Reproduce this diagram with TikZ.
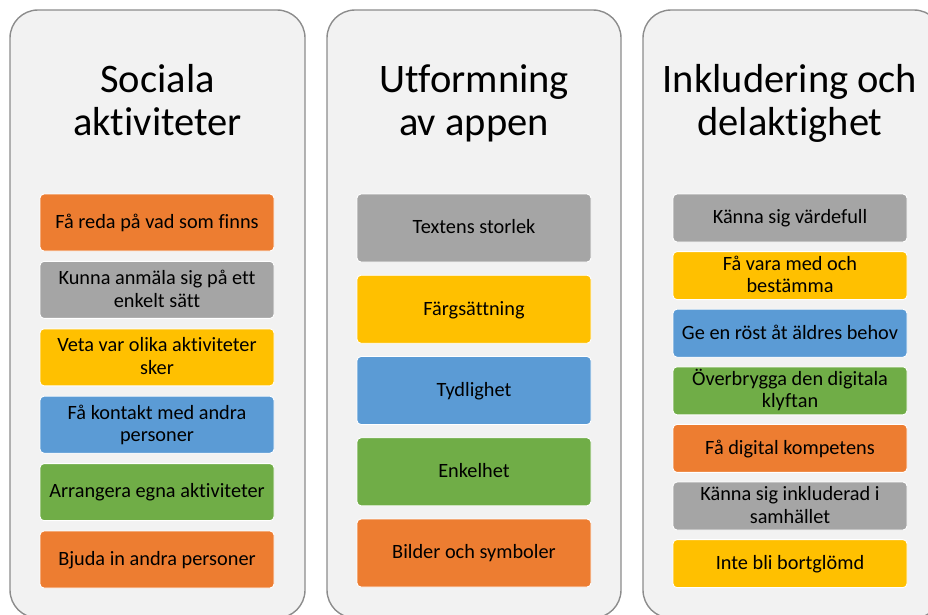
\documentclass[tikz,border=0pt]{standalone}
\usepackage{fontspec}
\setmainfont{Carlito}[Ligatures={NoCommon,NoRare,NoContextual}]
\definecolor{panelfill}{HTML}{F2F2F2}
\definecolor{panelline}{HTML}{8C8C8C}
\definecolor{corange}{HTML}{ED7D31}
\definecolor{cgray}{HTML}{A5A5A5}
\definecolor{cyellow}{HTML}{FFC000}
\definecolor{cblue}{HTML}{5B9BD5}
\definecolor{cgreen}{HTML}{70AD47}
\newcommand\mystrut{\rule[-5.4pt]{0pt}{22.5pt}}
\tikzset{
  panel/.style={draw=panelline, fill=panelfill, line width=1.4pt, rounded corners=28pt,
    minimum width=#1, minimum height=608pt, inner sep=0pt},
  title/.style={anchor=base, inner sep=0pt, font=\fontsize{40.5}{46}\selectfont, text=black},
  itembox/.style={draw=white, line width=0.9pt, rounded corners=4pt, inner sep=0pt,
    minimum width=234pt, align=center, font=\fontsize{20.3}{22.5}\selectfont, text=black},
  b1/.style={itembox, minimum height=57pt},
  b2/.style={itembox, minimum height=68pt},
  b3/.style={itembox, minimum height=48pt},
}
\begin{document}
\begin{tikzpicture}[x=1pt,y=-1pt]
\useasboundingbox (0,0) rectangle (928,614);
% panels
\node[panel=295pt] (p1) at (157.5,314) {};
\node[panel=294pt] (p2) at (474,314) {};
\node[panel=299pt] (p3) at (792.5,314) {};
% titles
\node[title] (t1a) at (157.5,92) {Sociala};
\node[title] (t1b) at (157.5,135) {aktiviteter};
\node[title] (t2a) at (474,92) {Utformning};
\node[title] (t2b) at (474,135) {av appen};
\node[title] (t3a) at (790,92) {Inkludering och};
\node[title] (t3b) at (790,135) {delaktighet};
% panel 1
\node[b1, fill=corange] (a1) at (157,222.5) {Få reda på vad som finns\mystrut};
\node[b1, fill=cgray]   (a2) at (157,289.9) {Kunna anmäla sig på ett\mystrut\\enkelt sätt\mystrut};
\node[b1, fill=cyellow] (a3) at (157,357.3) {Veta var olika aktiviteter\mystrut\\sker\mystrut};
\node[b1, fill=cblue]   (a4) at (157,424.7) {Få kontakt med andra\mystrut\\personer\mystrut};
\node[b1, fill=cgreen]  (a5) at (157,492.1) {Arrangera egna aktiviteter\mystrut};
\node[b1, fill=corange] (a6) at (157,559.5) {Bjuda in andra personer\mystrut};
% panel 2
\node[b2, fill=cgray]   (c1) at (474,228) {Textens storlek\mystrut};
\node[b2, fill=cyellow] (c2) at (474,309.25) {Färgsättning\mystrut};
\node[b2, fill=cblue]   (c3) at (474,390.5) {Tydlighet\mystrut};
\node[b2, fill=cgreen]  (c4) at (474,471.75) {Enkelhet\mystrut};
\node[b2, fill=corange] (c5) at (474,553) {Bilder och symboler\mystrut};
% panel 3
\node[b3, fill=cgray]   (d1) at (790,218) {Känna sig värdefull\mystrut};
\node[b3, fill=cyellow] (d2) at (790,275.6) {Få vara med och\mystrut\\bestämma\mystrut};
\node[b3, fill=cblue]   (d3) at (790,333.2) {Ge en röst åt äldres behov\mystrut};
\node[b3, fill=cgreen]  (d4) at (790,390.8) {Överbrygga den digitala\mystrut\\klyftan\mystrut};
\node[b3, fill=corange] (d5) at (790,448.4) {Få digital kompetens\mystrut};
\node[b3, fill=cgray]   (d6) at (790,506) {Känna sig inkluderad i\mystrut\\samhället\mystrut};
\node[b3, fill=cyellow] (d7) at (790,563.6) {Inte bli bortglömd\mystrut};
\end{tikzpicture}
\end{document}
